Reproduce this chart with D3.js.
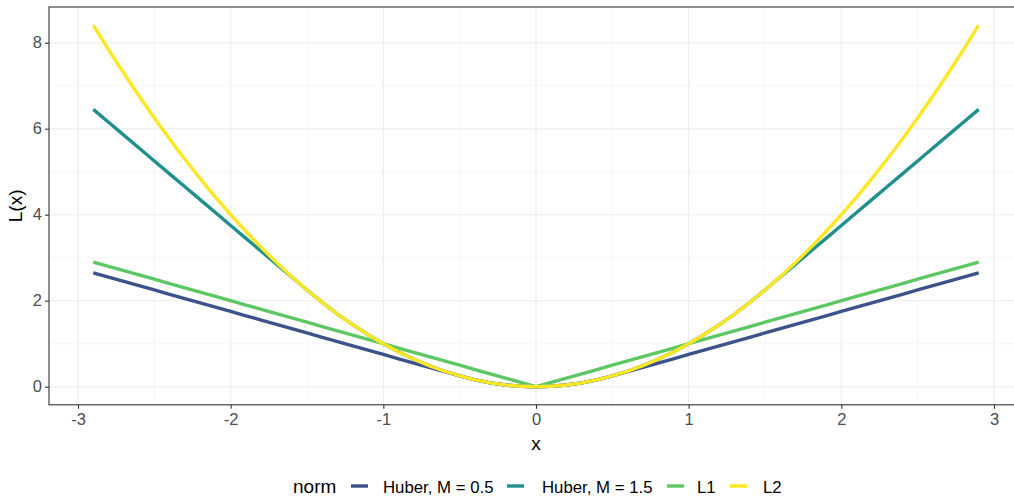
<!DOCTYPE html>
<html><head><meta charset="utf-8">
<script src="https://cdn.jsdelivr.net/npm/d3@7"></script>
<style>body{margin:0;background:#fff;} svg{display:block;font-family:"Liberation Sans",Arial,sans-serif;}</style>
</head><body>
<svg id="c" width="1014" height="497"></svg>
<script>
const xs = [-2.9,-2.8,-2.7,-2.6,-2.5,-2.4,-2.3,-2.2,-2.1,-2.0,-1.9,-1.8,-1.7,-1.6,-1.5,-1.4,-1.3,-1.2,-1.1,-1.0,-0.9,-0.8,-0.7,-0.6,-0.5,-0.4,-0.3,-0.2,-0.1,0,0.1,0.2,0.3,0.4,0.5,0.6,0.7,0.8,0.9,1.0,1.1,1.2,1.3,1.4,1.5,1.6,1.7,1.8,1.9,2.0,2.1,2.2,2.3,2.4,2.5,2.6,2.7,2.8,2.9];
const huber05 = [2.65,2.55,2.45,2.35,2.25,2.15,2.05,1.95,1.85,1.75,1.65,1.55,1.45,1.35,1.25,1.15,1.05,0.95,0.85,0.75,0.65,0.55,0.45,0.35,0.25,0.16,0.09,0.04,0.01,0,0.01,0.04,0.09,0.16,0.25,0.35,0.45,0.55,0.65,0.75,0.85,0.95,1.05,1.15,1.25,1.35,1.45,1.55,1.65,1.75,1.85,1.95,2.05,2.15,2.25,2.35,2.45,2.55,2.65];
const huber15 = [6.45,6.15,5.85,5.55,5.25,4.95,4.65,4.35,4.05,3.75,3.45,3.15,2.85,2.55,2.25,1.96,1.69,1.44,1.21,1.00,0.81,0.64,0.49,0.36,0.25,0.16,0.09,0.04,0.01,0,0.01,0.04,0.09,0.16,0.25,0.36,0.49,0.64,0.81,1.00,1.21,1.44,1.69,1.96,2.25,2.55,2.85,3.15,3.45,3.75,4.05,4.35,4.65,4.95,5.25,5.55,5.85,6.15,6.45];
const l1 = [2.9,2.8,2.7,2.6,2.5,2.4,2.3,2.2,2.1,2.0,1.9,1.8,1.7,1.6,1.5,1.4,1.3,1.2,1.1,1.0,0.9,0.8,0.7,0.6,0.5,0.4,0.3,0.2,0.1,0,0.1,0.2,0.3,0.4,0.5,0.6,0.7,0.8,0.9,1.0,1.1,1.2,1.3,1.4,1.5,1.6,1.7,1.8,1.9,2.0,2.1,2.2,2.3,2.4,2.5,2.6,2.7,2.8,2.9];
const l2 = [8.41,7.84,7.29,6.76,6.25,5.76,5.29,4.84,4.41,4.00,3.61,3.24,2.89,2.56,2.25,1.96,1.69,1.44,1.21,1.00,0.81,0.64,0.49,0.36,0.25,0.16,0.09,0.04,0.01,0,0.01,0.04,0.09,0.16,0.25,0.36,0.49,0.64,0.81,1.00,1.21,1.44,1.69,1.96,2.25,2.56,2.89,3.24,3.61,4.00,4.41,4.84,5.29,5.76,6.25,6.76,7.29,7.84,8.41];
const seriesNames = ["Huber, M = 0.5","Huber, M = 1.5","L1","L2"];
const seriesValues = [huber05, huber15, l1, l2];
const seriesColors = ["#3B528B","#21908C","#5DC863","#FDE725"];
const xTicks = [-3,-2,-1,0,1,2,3];
const yTicks = [0,2,4,6,8];
const xMinor = [-2.5,-1.5,-0.5,0.5,1.5,2.5];
const yMinor = [1,3,5,7];

const svg = d3.select("#c");
const L = 49, T = 7, B = 404.8, R = 1023;
const x = d3.scaleLinear().domain([-3.19, 3.19]).range([L, R]);
const y = d3.scaleLinear().domain([-0.4205, 8.8305]).range([B, T]);

svg.append("defs").append("clipPath").attr("id","pc").append("rect")
  .attr("x",L).attr("y",T).attr("width",R-L).attr("height",B-T);
const g = svg.append("g");
g.selectAll(".gxm").data(xMinor).enter().append("line")
  .attr("x1",d=>x(d)).attr("x2",d=>x(d)).attr("y1",T).attr("y2",B)
  .attr("stroke","#F2F2F2").attr("stroke-width",0.6);
g.selectAll(".gym").data(yMinor).enter().append("line")
  .attr("y1",d=>y(d)).attr("y2",d=>y(d)).attr("x1",L).attr("x2",R)
  .attr("stroke","#F2F2F2").attr("stroke-width",0.6);
g.selectAll(".gx").data(xTicks).enter().append("line")
  .attr("x1",d=>x(d)).attr("x2",d=>x(d)).attr("y1",T).attr("y2",B)
  .attr("stroke","#EBEBEB").attr("stroke-width",1.1);
g.selectAll(".gy").data(yTicks).enter().append("line")
  .attr("y1",d=>y(d)).attr("y2",d=>y(d)).attr("x1",L).attr("x2",R)
  .attr("stroke","#EBEBEB").attr("stroke-width",1.1);

const line = d3.line().x((d,i)=>x(xs[i])).y(d=>y(d));
const lg = svg.append("g").attr("clip-path","url(#pc)");
seriesValues.forEach((vals,k)=>{
  lg.append("path").attr("d",line(vals)).attr("fill","none")
    .attr("stroke",seriesColors[k]).attr("stroke-width",3.4)
    .attr("stroke-linejoin","round").attr("stroke-linecap","butt");
});

svg.append("rect").attr("x",L).attr("y",T).attr("width",R-L).attr("height",B-T)
  .attr("fill","none").attr("stroke","#333333").attr("stroke-width",1.1);

const fmt = d => String(d);
const xa = svg.append("g").attr("transform",`translate(0,${B})`)
  .call(d3.axisBottom(x).tickValues(xTicks).tickSize(4).tickPadding(4).tickFormat(fmt));
const ya = svg.append("g").attr("transform",`translate(${L},0)`)
  .call(d3.axisLeft(y).tickValues(yTicks).tickSize(4).tickPadding(3).tickFormat(fmt));
[xa,ya].forEach(a=>{
  a.select(".domain").remove();
  a.selectAll("line").attr("stroke","#333333").attr("stroke-width",1.1);
  a.selectAll("text").attr("fill","#4D4D4D").attr("font-size","16.5px").style("font-family","Liberation Sans, Arial, sans-serif");
});

svg.append("text").attr("x",x(0)).attr("y",450).attr("text-anchor","middle")
  .attr("font-size","19px").attr("fill","#000").text("x");
svg.append("text").attr("transform",`translate(22,${(T+B)/2}) rotate(-90)`).attr("text-anchor","middle")
  .attr("font-size","19px").attr("fill","#000").text("L(x)");

const leg = svg.append("g");
const ly = 486;
leg.append("text").attr("x",293).attr("y",493).attr("font-size","19px").attr("fill","#000").text("norm");
const keyX = [351,507,667,730];
const labX = [383,542,697,763];
seriesNames.forEach((n,k)=>{
  leg.append("line").attr("x1",keyX[k]).attr("x2",keyX[k]+17).attr("y1",ly).attr("y2",ly)
    .attr("stroke",seriesColors[k]).attr("stroke-width",3.4);
  leg.append("text").attr("x",labX[k]).attr("y",493).attr("font-size","16.8px").attr("fill","#000").text(n);
});
</script>
</body></html>
